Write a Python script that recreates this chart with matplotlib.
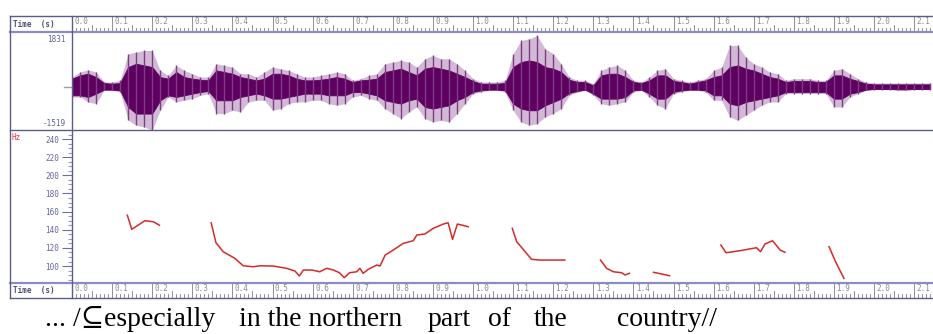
import numpy as np
import matplotlib.pyplot as plt
from matplotlib.lines import Line2D

# waveform envelope, sampled every 0.02 s (amplitude units)
wave_t = [i * 0.02 for i in range(108)]
peak_hi = [393, 590, 681, 590, 197, 197, 262, 1310, 1376, 1441,
           1441, 655, 459, 852, 655, 524, 393, 393, 917, 852,
           786, 524, 524, 393, 590, 786, 721, 655, 524, 393,
           393, 459, 524, 590, 524, 262, 328, 459, 524, 917,
           983, 1048, 983, 786, 1114, 1245, 1114, 1114, 917, 655,
           328, 197, 197, 197, 262, 1310, 1834, 1900, 2030, 1507,
           1310, 917, 393, 262, 262, 131, 655, 786, 852, 655,
           262, 197, 393, 655, 721, 328, 262, 197, 262, 328,
           655, 786, 1638, 1638, 1179, 917, 786, 590, 524, 262,
           328, 328, 328, 262, 262, 655, 721, 524, 328, 197,
           157, 157, 157, 157, 157, 157, 157, 157]
peak_lo = [-393, -393, -590, -655, -131, -131, -197, -1310, -1507, -1572,
           -1703, -917, -393, -590, -524, -459, -328, -262, -1048, -1048,
           -917, -983, -590, -524, -524, -917, -852, -655, -590, -590,
           -524, -524, -655, -721, -655, -393, -328, -459, -524, -852,
           -1048, -1245, -983, -786, -1245, -1376, -1310, -1376, -1048, -655,
           -262, -197, -131, -131, -197, -917, -1376, -1507, -1441, -1179,
           -1048, -852, -328, -197, -131, -328, -655, -721, -655, -590,
           -197, -131, -393, -721, -852, -262, -197, -131, -131, -197,
           -524, -524, -1179, -1310, -1114, -917, -721, -590, -590, -262,
           -262, -262, -262, -262, -262, -786, -786, -393, -262, -131,
           -105, -105, -105, -131, -131, -105, -105, -105]
core_hi = [328, 459, 524, 393, 157, 131, 157, 786, 917, 852,
           786, 393, 328, 590, 393, 328, 288, 262, 655, 590,
           524, 393, 328, 262, 328, 524, 524, 459, 328, 262,
           262, 288, 328, 393, 328, 197, 262, 288, 328, 590,
           655, 721, 590, 459, 721, 786, 721, 655, 524, 393,
           236, 131, 131, 131, 157, 786, 983, 1048, 983, 786,
           721, 590, 288, 197, 197, 66, 459, 524, 524, 393,
           197, 157, 262, 459, 459, 236, 197, 131, 197, 262,
           393, 459, 786, 852, 721, 655, 524, 393, 328, 197,
           236, 236, 236, 197, 197, 459, 459, 328, 236, 131,
           105, 105, 105, 105, 105, 105, 105, 105]
core_lo = [-328, -328, -393, -262, -105, -105, -131, -786, -1048, -1048,
           -1048, -524, -328, -393, -328, -262, -197, -157, -524, -524,
           -524, -393, -328, -262, -328, -459, -459, -393, -328, -262,
           -262, -262, -328, -328, -328, -197, -197, -262, -328, -524,
           -590, -655, -524, -459, -786, -852, -786, -721, -524, -393,
           -197, -131, -105, -105, -131, -655, -852, -917, -917, -721,
           -590, -459, -236, -157, -105, -262, -459, -459, -459, -393,
           -131, -105, -262, -459, -459, -197, -131, -105, -105, -131,
           -328, -328, -655, -721, -590, -524, -459, -393, -328, -197,
           -197, -197, -197, -197, -197, -459, -459, -262, -197, -105,
           -79, -79, -79, -92, -92, -79, -79, -79]

# pitch track segments (time s, Hz)
pitch_segments = [
    ([0.138, 0.149, 0.182, 0.203, 0.218],
     [156, 140.5, 150, 148.8, 145]),
    ([0.347, 0.359, 0.377, 0.406, 0.427, 0.452, 0.469, 0.502, 0.535, 0.556,
      0.567, 0.577, 0.598, 0.618, 0.635, 0.652, 0.667, 0.679, 0.692, 0.710,
      0.718, 0.726, 0.739, 0.760, 0.768, 0.781, 0.801, 0.826, 0.851, 0.860,
      0.880, 0.901, 0.926, 0.938, 0.949, 0.961, 0.972, 0.988],
     [147.7, 125.7, 115.8, 108.5, 100.3, 99.2, 100.3, 100, 97.5, 94.5,
      89, 95.6, 95.6, 93.7, 97.5, 95.6, 92.6, 87.1, 92.6, 93.7,
      97.5, 92, 96.4, 101.1, 100, 112.1, 117.6, 125, 127.9, 134.2,
      135.3, 141.6, 146.3, 147.7, 129.4, 146.3, 145.2, 143.3]),
    ([1.098, 1.109, 1.121, 1.146, 1.167, 1.209, 1.229],
     [141.6, 126.8, 120.6, 107.4, 106.6, 106.6, 106.6]),
    ([1.318, 1.333, 1.350, 1.371, 1.379, 1.390],
     [106.6, 97.5, 93.7, 92.6, 90.1, 92.0]),
    ([1.450, 1.471, 1.490],
     [93.1, 91.2, 89.3]),
    ([1.618, 1.631, 1.666, 1.707, 1.717, 1.728, 1.747, 1.766, 1.778],
     [123.2, 114.7, 116.9, 120.2, 115.8, 124.3, 127.9, 117.6, 115.1]),
    ([1.888, 1.903, 1.925],
     [121.3, 105.8, 86.4]),
]

hz_ticks = [100, 120, 140, 160, 180, 200, 220, 240]
wave_max_label = "1831"
wave_min_label = "-1519"
words = [("... /\u2286especially", 45), ("in the northern", 239), ("part", 428),
         ("of", 488), ("the", 534), ("country//", 617)]

W, H = 933, 334
T_MAX = (W - 72) / 401.0
frame_col = '#5c5c8c'
div_col = '#8c8cc4'
txt_col = '#6464a0'
wave_col = '#5e0060'
mono = 'DejaVu Sans Mono'

fig = plt.figure(figsize=(W / 100, H / 100), dpi=100)


def fx(x):
    return x / W


def fy(y):
    return 1 - y / H


def add_ax(x0, y0, x1, y1):
    ax = fig.add_axes([fx(x0), fy(y1), fx(x1) - fx(x0), fy(y0) - fy(y1)])
    for s in ax.spines.values():
        s.set_visible(False)
    ax.set_xticks([])
    ax.set_yticks([])
    ax.patch.set_alpha(0)
    return ax


def hline(y, x0, x1, col, lw):
    fig.add_artist(Line2D([fx(x0), fx(x1)], [fy(y), fy(y)], color=col, lw=lw))


def vline(x, y0, y1, col, lw):
    fig.add_artist(Line2D([fx(x), fx(x)], [fy(y0), fy(y1)], color=col, lw=lw))


def time_bar(y0, y1):
    ax = add_ax(72, y0, W, y1)
    ax.set_xlim(0, T_MAX)
    ax.set_ylim(0, 1)
    for i in range(22):
        t = i / 10
        ax.plot([t, t], [0, 1], color='#808080', lw=0.6)
        ax.text(t + 0.006, 0.93, "%.1f" % t, fontsize=5.5, family=mono,
                color='#8a8a8a', va='top', ha='left')
    for k in range(1, 215):
        if k % 10 == 0:
            continue
        t = k / 100
        h = 0.45 if k % 5 == 0 else 0.25
        ax.plot([t, t], [0, h], color='#808080', lw=0.6)
    fig.text(fx(13), fy((y0 + y1) / 2), "Time  (s)", fontsize=5.5, family=mono,
             color='#50507a', va='center', ha='left', weight='bold')


time_bar(16, 32)
time_bar(283, 298)

# waveform panel
axw = add_ax(72, 32, W, 130)
axw.set_xlim(0, T_MAX)
axw.set_ylim(-1694, 2167)
axw.fill_between(wave_t, peak_lo, peak_hi, color='#b58cbc', lw=0, alpha=0.6)
axw.vlines(wave_t, peak_lo, peak_hi, color='#7e3c86', lw=1.0)
axw.fill_between(wave_t, core_lo, core_hi, color=wave_col, lw=0.6, edgecolor=wave_col)
fig.text(fx(66), fy(40), wave_max_label, fontsize=5.5, family=mono, color=txt_col,
         ha='right', va='center')
fig.text(fx(66), fy(123), wave_min_label, fontsize=5.5, family=mono, color=txt_col,
         ha='right', va='center')
hline(87, 64, 72, '#9a9ab0', 1.0)

# pitch panel
axp = add_ax(72, 130, W, 283)
axp.set_xlim(0, T_MAX)
axp.set_ylim(81.3, 250)
for seg_t, seg_hz in pitch_segments:
    axp.plot(seg_t, seg_hz, color='#d42a2a', lw=1.1)
axp.set_yticks(hz_ticks)
axp.set_yticks(range(85, 250, 5), minor=True)
axp.tick_params(axis='y', which='major', direction='out', length=7, width=0.8,
                color='#7070a0', labelsize=5.5, labelcolor=txt_col, pad=2)
axp.tick_params(axis='y', which='minor', direction='out', length=3, width=0.8,
                color='#9a9ab8')
for lab in axp.get_yticklabels():
    lab.set_family(mono)
fig.text(fx(12), fy(137), "Hz", fontsize=5.5, family=mono, color='#e03838',
         ha='left', va='center')

# frame
hline(16, 10, W, frame_col, 1.0)
hline(32, 10, W, div_col, 1.6)
hline(130, 10, W, frame_col, 1.0)
hline(283, 10, W, div_col, 1.6)
hline(298, 10, W, frame_col, 1.0)
vline(10, 16, 298, frame_col, 1.0)
vline(72, 16, 298, frame_col, 1.0)

# transcription
for word, x in words:
    fig.text(fx(x), fy(326), word, fontsize=20, family=['Liberation Serif', 'DejaVu Serif'],
             color='black', ha='left', va='baseline')

fig.savefig('out.png', dpi=100)
